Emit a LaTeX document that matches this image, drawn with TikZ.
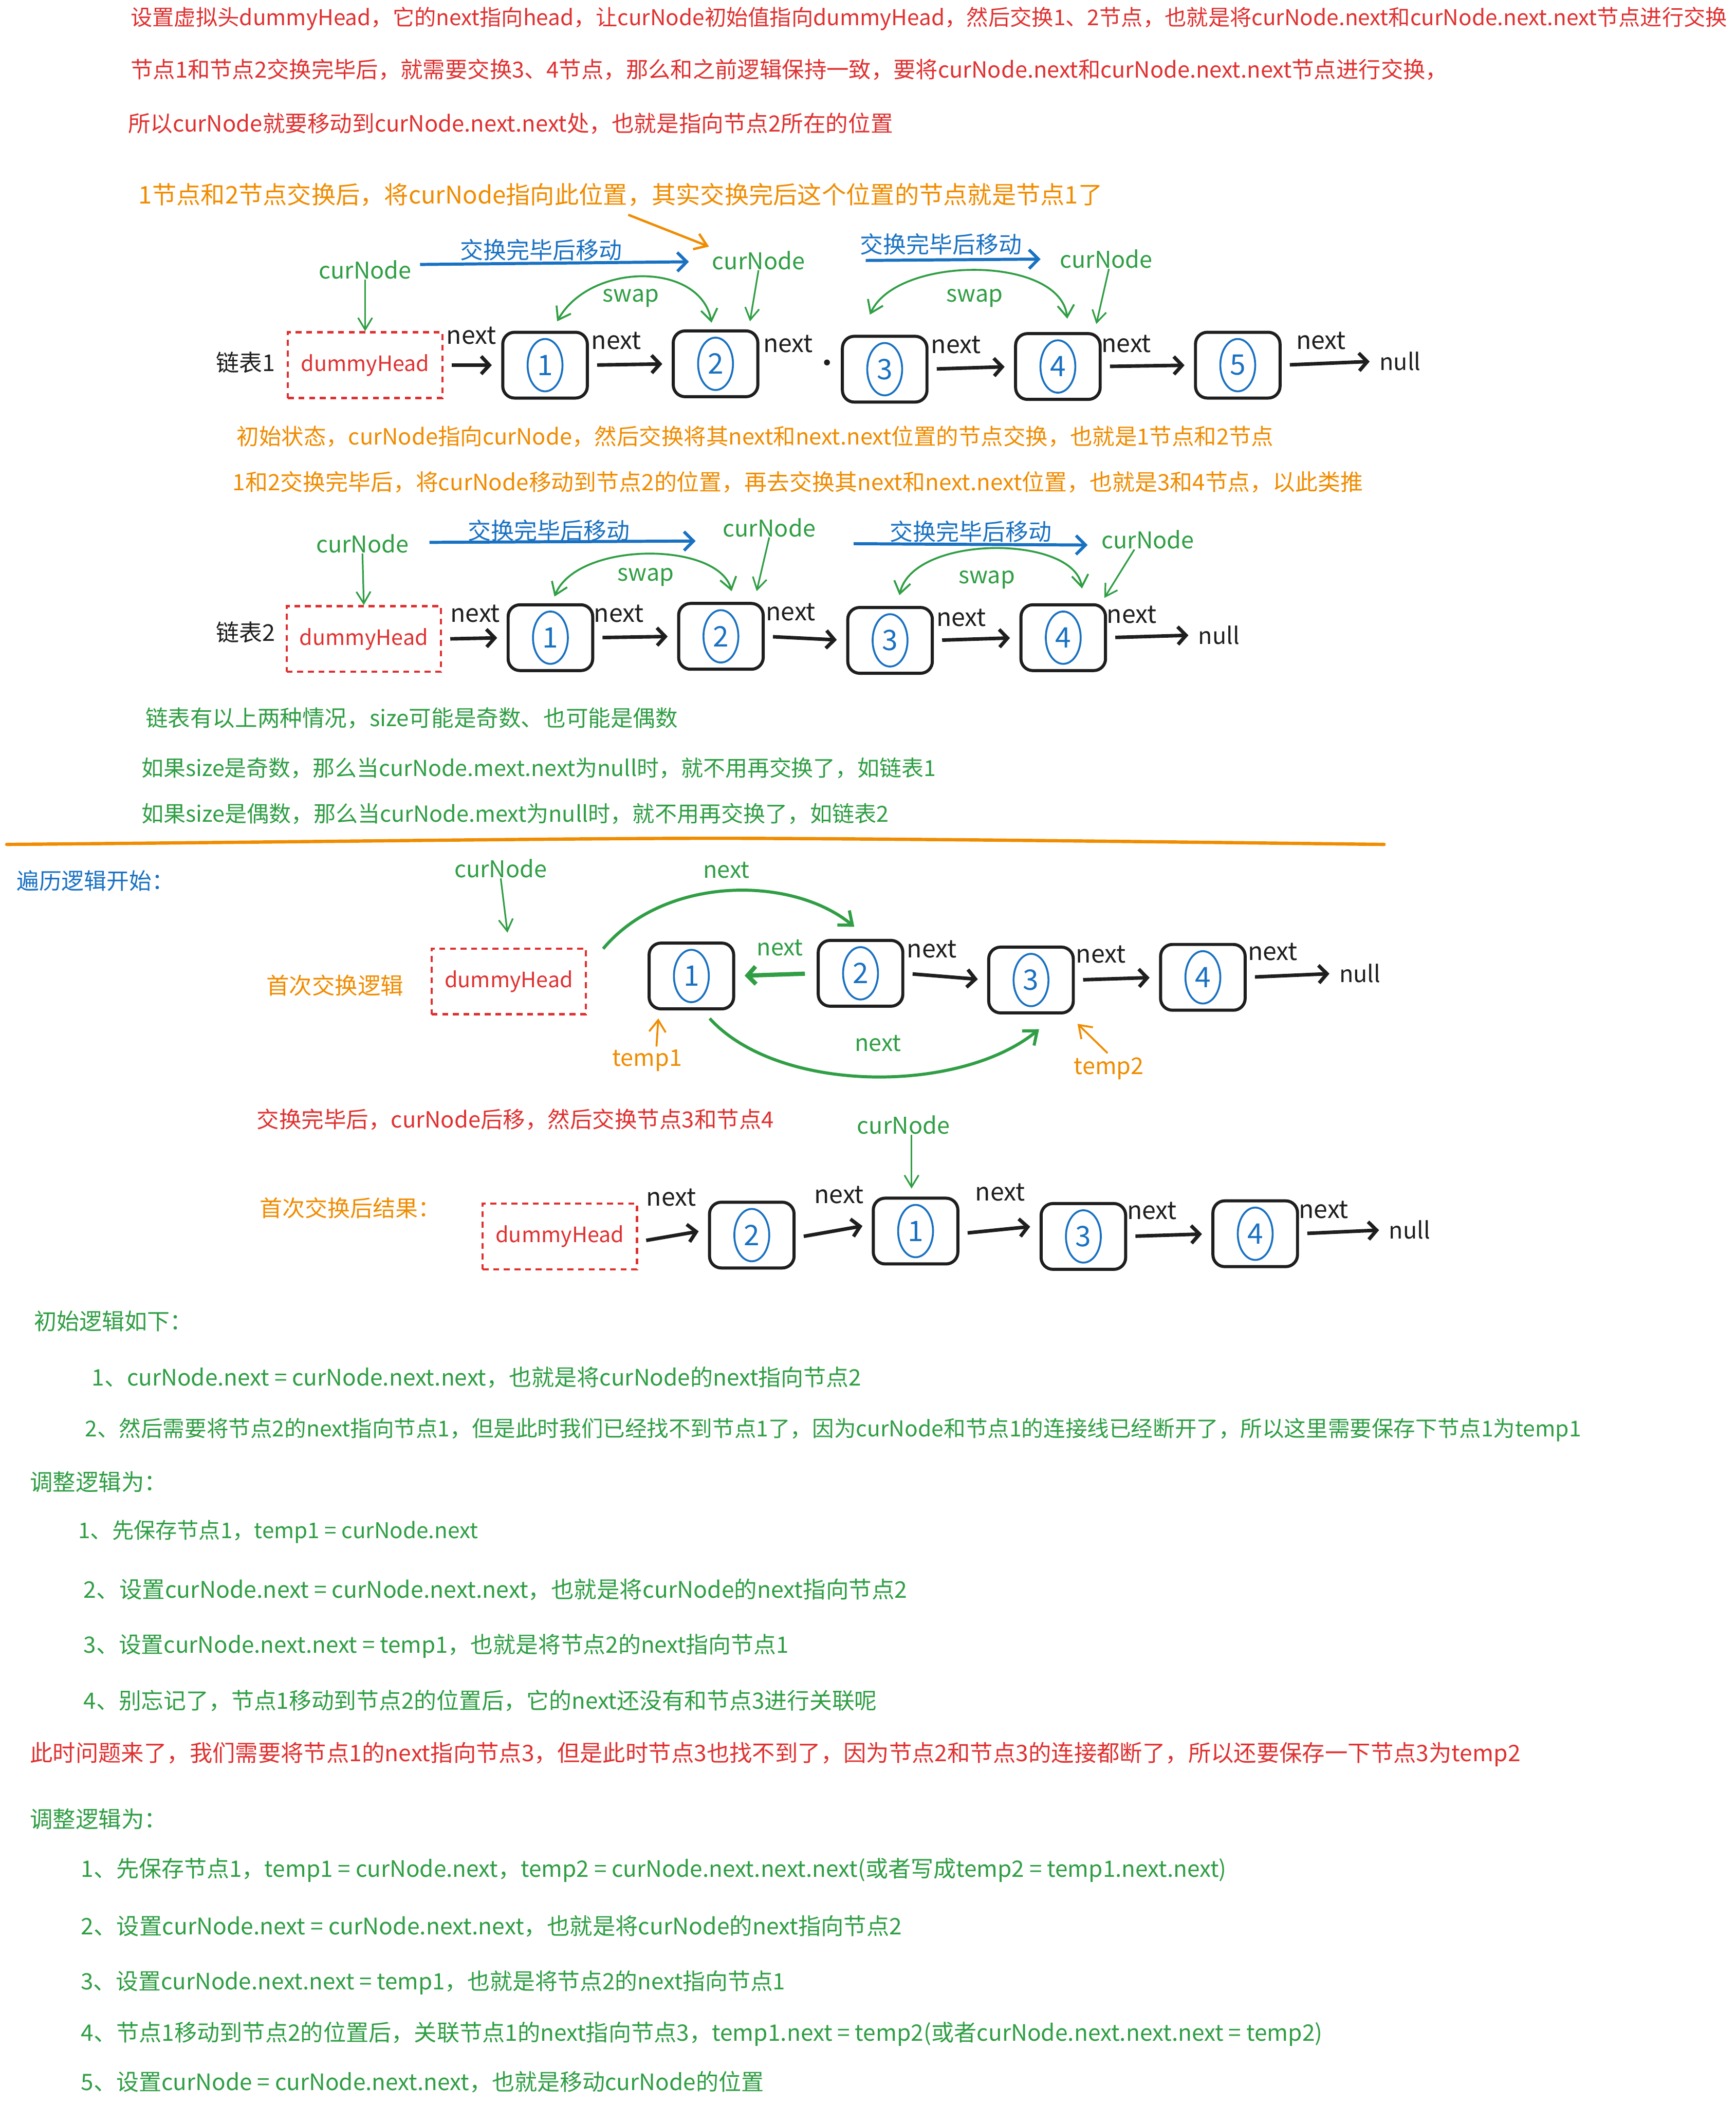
\documentclass[tikz,border=0pt]{standalone}
\usepackage{fontspec}
\setmainfont{Noto Sans CJK SC}
\usetikzlibrary{arrows.meta,shapes.geometric,calc}
\definecolor{cred}{HTML}{E03131}
\definecolor{corange}{HTML}{F08C00}
\definecolor{cgreen}{HTML}{2F9E44}
\definecolor{cblue}{HTML}{1971C2}
\definecolor{cblack}{HTML}{1E1E1E}
\newcommand{\txtfs}{\fontsize{9.8}{12}\selectfont}
\newcommand{\LL}[3]{\node[lbox] (#1) at (#2) {}; \node[ldig] (#1d) at (#1) {#3};}
\begin{document}
\begin{tikzpicture}[x=0.02cm,y=-0.02cm,
  txt/.style={anchor=west,inner sep=0pt,font=\fontsize{#1}{12}\selectfont},
  txt/.default=9.5,
  lab/.style={inner sep=0pt,font=\txtfs},
  lbox/.style={draw=cblack,line width=1.3pt,rounded corners=5pt,minimum width=1.26cm,minimum height=0.98cm,inner sep=0pt},
  ldig/.style={ellipse,draw=cblue,line width=0.8pt,text=cblue,minimum width=0.52cm,minimum height=0.78cm,inner sep=0pt,font=\fontsize{12}{12}\selectfont},
  dhead/.style={draw=cred,line width=0.9pt,dash pattern=on 2.5pt off 2pt,minimum width=2.3cm,minimum height=0.98cm,text=cred,font=\fontsize{9}{10}\selectfont,inner sep=0pt},
  nl/.style={inner sep=0pt,text=cblack,font=\fontsize{10.5}{11}\selectfont},
  narr/.style={draw=cblack,line width=1.5pt,-{Straight Barb[length=3.5pt,width=7.5pt]},shorten <=3.5pt,shorten >=4pt},
  garr/.style={draw=cgreen,line width=0.7pt,-{Straight Barb[length=5pt,width=6pt]}},
  barr/.style={draw=cblue,line width=1.3pt,-{Straight Barb[length=4pt,width=8pt]}},
  sarr/.style={draw=cgreen,line width=0.8pt,{Straight Barb[length=5pt,width=7pt]}-{Straight Barb[length=5pt,width=7pt]}},
]
\fill[white] (0,0) rectangle (1293,1568);
\useasboundingbox (0,0) rectangle (1293,1568);

% ---------- header texts ----------
\node[txt=9.22,text=cred] (t1) at (97,14) {设置虚拟头dummyHead，它的next指向head，让curNode初始值指向dummyHead，然后交换1、2节点，也就是将curNode.next和curNode.next.next节点进行交换};
\node[txt=9.45,text=cred] (t2) at (97,52) {节点1和节点2交换完毕后，就需要交换3、4节点，那么和之前逻辑保持一致，要将curNode.next和curNode.next.next节点进行交换，};
\node[txt=9.5,text=cred] (t3) at (95,92) {所以curNode就要移动到curNode.next.next处，也就是指向节点2所在的位置};
\node[txt=10.3,text=corange] (t4) at (103,145) {1节点和2节点交换后，将curNode指向此位置，其实交换完后这个位置的节点就是节点1了};

% ---------- list 1 ----------
\node[lab,text=cgreen] (c1a) at (272,201) {curNode};
\node[lab,text=cgreen] (c1b) at (565,194) {curNode};
\node[lab,text=cgreen] (c1c) at (824,193) {curNode};
\node[lab,text=cblue] (m1a) at (403,186) {交换完毕后移动};
\node[lab,text=cblue] (m1b) at (701,182) {交换完毕后移动};
\node[lab,text=cblack] (l1) at (183,270) {链表1};
\node[dhead] (d1h) at (272,272) {dummyHead};
\LL{a1}{406,272}{1}
\LL{a2}{533,271}{2}
\LL{a3}{659,275}{3}
\LL{a4}{788,273}{4}
\LL{a5}{922,272}{5}
\node[lab,text=cblack] (n1null) at (1043,269) {null};
\node[circle,fill=cblack,inner sep=0pt,minimum size=2.5pt] (dot1) at (616,270) {};
\node[nl] (x11) at (351,250) {next};
\node[nl] (x12) at (459,254) {next};
\node[nl] (x13) at (587,256) {next};
\node[nl] (x14) at (712,257) {next};
\node[nl] (x15) at (839,256) {next};
\node[nl] (x16) at (984,254) {next};
\draw[narr] (d1h.east) -- (a1.west);
\draw[narr] (a1.east) -- (a2.west);
\draw[narr] (a3.east) -- (a4.west);
\draw[narr] (a4.east) -- (a5.west);
\draw[narr] (a5.east) -- (n1null.west);
\draw[barr] ($(c1a.east)+(6,-4)$) -- ($(c1b.west)+(-17,1)$);
\draw[barr] ($(c1b.east)+(45,0)$) -- ($(c1c.west)+(-14,0)$);
\draw[garr] (c1a.south) -- (d1h.north);
\draw[garr] (c1b.south) -- ($(a2.north east)+(-7,-6)$);
\draw[garr] ($(c1c.south)+(2,0)$) -- ($(a4.north east)+(-4,-6)$);
\coordinate (o1) at (468,160);
\draw[draw=corange,line width=1pt,-{Straight Barb[length=5pt,width=7pt]}] (o1) -- ($(c1b.north west)+(-2,-3)$);
\draw[sarr] ($(a2.north)+(-3,-5)$) .. controls (522,195) and (440,195) .. ($(a1.north)+(9,-7)$);
\node[lab,text=cgreen] (s11) at (470,222) {swap};
\draw[sarr] ($(a4.north)+(7,-10)$) .. controls (790,190) and (668,190) .. ($(a3.north)+(-11,-15)$);
\node[lab,text=cgreen] (s12) at (726,222) {swap};

% ---------- orange notes ----------
\node[txt=9.47,text=corange] (t5) at (176,325) {初始状态，curNode指向curNode，然后交换将其next和next.next位置的节点交换，也就是1节点和2节点};
\node[txt=9.57,text=corange] (t6) at (173,359) {1和2交换完毕后，将curNode移动到节点2的位置，再去交换其next和next.next位置，也就是3和4节点，以此类推};

% ---------- list 2 ----------
\node[lab,text=cgreen] (c2a) at (270,405) {curNode};
\node[lab,text=cgreen] (c2b) at (573,393) {curNode};
\node[lab,text=cgreen] (c2c) at (855,402) {curNode};
\node[lab,text=cblue] (m2a) at (409,395) {交换完毕后移动};
\node[lab,text=cblue] (m2b) at (723,396) {交换完毕后移动};
\node[lab,text=cblack] (l2) at (183,471) {链表2};
\node[dhead] (d2h) at (271,476) {dummyHead};
\LL{b1}{410,475}{1}
\LL{b2}{537,474}{2}
\LL{b3}{663,477}{3}
\LL{b4}{792,475}{4}
\node[lab,text=cblack] (n2null) at (908,473) {null};
\node[nl] (x21) at (354,457) {next};
\node[nl] (x22) at (461,457) {next};
\node[nl] (x23) at (589,456) {next};
\node[nl] (x24) at (716,460) {next};
\node[nl] (x25) at (843,458) {next};
\draw[narr] (d2h.east) -- (b1.west);
\draw[narr] (b1.east) -- (b2.west);
\draw[narr] (b2.east) -- (b3.west);
\draw[narr] (b3.east) -- (b4.west);
\draw[narr] (b4.east) -- (n2null.west);
\draw[barr] ($(c2a.east)+(15,-1)$) -- ($(c2b.west)+(-20,10)$);
\draw[barr] ($(c2b.east)+(28,12)$) -- ($(c2c.west)+(-10,4)$);
\draw[garr] (c2a.south) -- (d2h.north);
\draw[garr] (c2b.south) -- ($(b2.north east)+(-6,-8)$);
\draw[garr] ($(c2c.south)+(-10,0)$) -- ($(b4.north east)+(-2,-4)$);
\draw[sarr] ($(b2.north)+(8,-8)$) .. controls (535,403) and (430,403) .. ($(b1.north)+(3,-5)$);
\node[lab,text=cgreen] (s21) at (481,430) {swap};
\draw[sarr] ($(b4.north)+(14,-11)$) .. controls (800,398) and (680,398) .. ($(b3.north)+(7,-8)$);
\node[lab,text=cgreen] (s22) at (735,432) {swap};

% ---------- green notes ----------
\node[txt=9.5,text=cgreen] (g1) at (108,535) {链表有以上两种情况，size可能是奇数、也可能是偶数};
\node[txt=9.36,text=cgreen] (g2) at (105,572) {如果size是奇数，那么当curNode.mext.next为null时，就不用再交换了，如链表1};
\node[txt=9.4,text=cgreen] (g3) at (105,606) {如果size是偶数，那么当curNode.mext为null时，就不用再交换了，如链表2};

% ---------- separator ----------
\coordinate (sepL) at (5,629);
\coordinate (sepR) at (1031,629);
\draw[corange,line width=1.4pt,line cap=round] (sepL) .. controls (250,627) and (450,624) .. (560,624.5) .. controls (700,625) and (900,627.5) .. (sepR);

% ---------- traversal ----------
\node[txt=9.55,text=cblue] (trav) at (12,656) {遍历逻辑开始：};
\node[lab,text=cgreen] (c3) at (373,647) {curNode};
\node[lab,text=cgreen] (nxt3) at (541,648) {next};
\node[txt=9.7,text=corange] (first) at (198,734) {首次交换逻辑};
\node[dhead] (d3h) at (379,731) {dummyHead};
\LL{e1}{515,727}{1}
\LL{e2}{641,725}{2}
\LL{e3}{768,730}{3}
\LL{e4}{896,728}{4}
\node[lab,text=cblack] (n3null) at (1013,725) {null};
\node[nl] (x32) at (694,707) {next};
\node[nl] (x33) at (820,711) {next};
\node[nl] (x34) at (948,709) {next};
\draw[narr] (e2.east) -- (e3.west);
\draw[narr] (e3.east) -- (e4.west);
\draw[narr] (e4.east) -- (n3null.west);
\node[lab,text=cgreen] (x31) at (581,706) {next};
\draw[draw=cgreen,line width=1.8pt,-{Straight Barb[length=3.5pt,width=7.5pt]},shorten <=5pt,shorten >=4pt] (e2.west) -- (e1.east);
\draw[garr] (c3.south) -- ($(d3h.north)+(-1,-11)$);
\draw[draw=cgreen,line width=1.3pt,-{Straight Barb[length=5pt,width=8pt]}] ($(d3h.north east)+(12,1)$) .. controls (495,652) and (590,652) .. ($(e2.north west)+(28,-9)$);
\draw[draw=cgreen,line width=1.3pt,-{Straight Barb[length=5pt,width=8pt]}] ($(e1.south east)+(-19,6)$) .. controls (580,815) and (715,815) .. ($(e3.south)+(6,11)$);
\node[lab,text=cgreen] (nxt3b) at (654,777) {next};
\node[lab,text=corange] (tmp1) at (482,790) {temp1};
\node[lab,text=corange] (tmp2) at (826,796) {temp2};
\draw[draw=corange,line width=0.8pt,-{Straight Barb[length=5pt,width=7pt]}] ($(tmp1.north)+(7,-2)$) -- ($(e1.south west)+(8,6)$);
\draw[draw=corange,line width=0.8pt,-{Straight Barb[length=5pt,width=7pt]}] ($(tmp2.north)+(-1,-3)$) -- ($(e3.south east)+(2,7)$);

% ---------- result ----------
\node[txt=9.48,text=cred] (r1t) at (191,834) {交换完毕后，curNode后移，然后交换节点3和节点4};
\node[lab,text=cgreen] (c4) at (673,838) {curNode};
\node[txt=9.6,text=corange] (res) at (193,900) {首次交换后结果：};
\node[dhead] (d4h) at (417,921) {dummyHead};
\LL{f2}{560,920}{2}
\LL{f1}{682,917}{1}
\LL{f3}{807,921}{3}
\LL{f4}{935,919}{4}
\node[lab,text=cblack] (n4null) at (1050,916) {null};
\node[nl] (x41) at (500,892) {next};
\node[nl] (x42) at (625,890) {next};
\node[nl] (x43) at (745,888) {next};
\node[nl] (x44) at (858,902) {next};
\node[nl] (x45) at (986,901) {next};
\draw[narr] ($(d4h.east)+(0,4)$) -- ($(f2.west)+(0,-4)$);
\draw[narr] ($(f2.east)+(0,2)$) -- ($(f1.west)+(0,-5)$);
\draw[narr] ($(f1.east)+(0,2)$) -- ($(f3.west)+(0,-8)$);
\draw[narr] (f3.east) -- (f4.west);
\draw[narr] (f4.east) -- (n4null.west);
\draw[garr] ($(c4.south)+(6,0)$) -- ($(f1.north)+(-3,-6)$);

% ---------- bottom texts ----------
\node[txt=9.6,text=cgreen] (b01) at (25,984) {初始逻辑如下：};
\node[txt=9.6,text=cgreen] (b02) at (68,1026) {1、curNode.next = curNode.next.next，也就是将curNode的next指向节点2};
\node[txt=9.28,text=cgreen] (b03) at (63,1065) {2、然后需要将节点2的next指向节点1，但是此时我们已经找不到节点1了，因为curNode和节点1的连接线已经断开了，所以这里需要保存下节点1为temp1};
\node[txt=9.7,text=cgreen] (b04) at (22,1104) {调整逻辑为：};
\node[txt=9.2,text=cgreen] (b05) at (58,1141) {1、先保存节点1，temp1 = curNode.next};
\node[txt=9.7,text=cgreen] (b06) at (62,1184) {2、设置curNode.next = curNode.next.next，也就是将curNode的next指向节点2};
\node[txt=9.56,text=cgreen] (b07) at (62,1226) {3、设置curNode.next.next = temp1，也就是将节点2的next指向节点1};
\node[txt=9.55,text=cgreen] (b08) at (62,1267) {4、别忘记了，节点1移动到节点2的位置后，它的next还没有和节点3进行关联呢};
\node[txt=9.67,text=cred] (b09) at (22,1307) {此时问题来了，我们需要将节点1的next指向节点3，但是此时节点3也找不到了，因为节点2和节点3的连接都断了，所以还要保存一下节点3为temp2};
\node[txt=9.7,text=cgreen] (b10) at (22,1355) {调整逻辑为：};
\node[txt=9.6,text=cgreen] (b11) at (60,1393) {1、先保存节点1，temp1 = curNode.next，temp2 = curNode.next.next.next(或者写成temp2 = temp1.next.next)};
\node[txt=9.67,text=cgreen] (b12) at (60,1435) {2、设置curNode.next = curNode.next.next，也就是将curNode的next指向节点2};
\node[txt=9.55,text=cgreen] (b13) at (60,1477) {3、设置curNode.next.next = temp1，也就是将节点2的next指向节点1};
\node[txt=9.63,text=cgreen] (b14) at (60,1515) {4、节点1移动到节点2的位置后，关联节点1的next指向节点3，temp1.next = temp2(或者curNode.next.next.next = temp2)};
\node[txt=9.6,text=cgreen] (b15) at (60,1551) {5、设置curNode = curNode.next.next，也就是移动curNode的位置};
\end{tikzpicture}
\end{document}
